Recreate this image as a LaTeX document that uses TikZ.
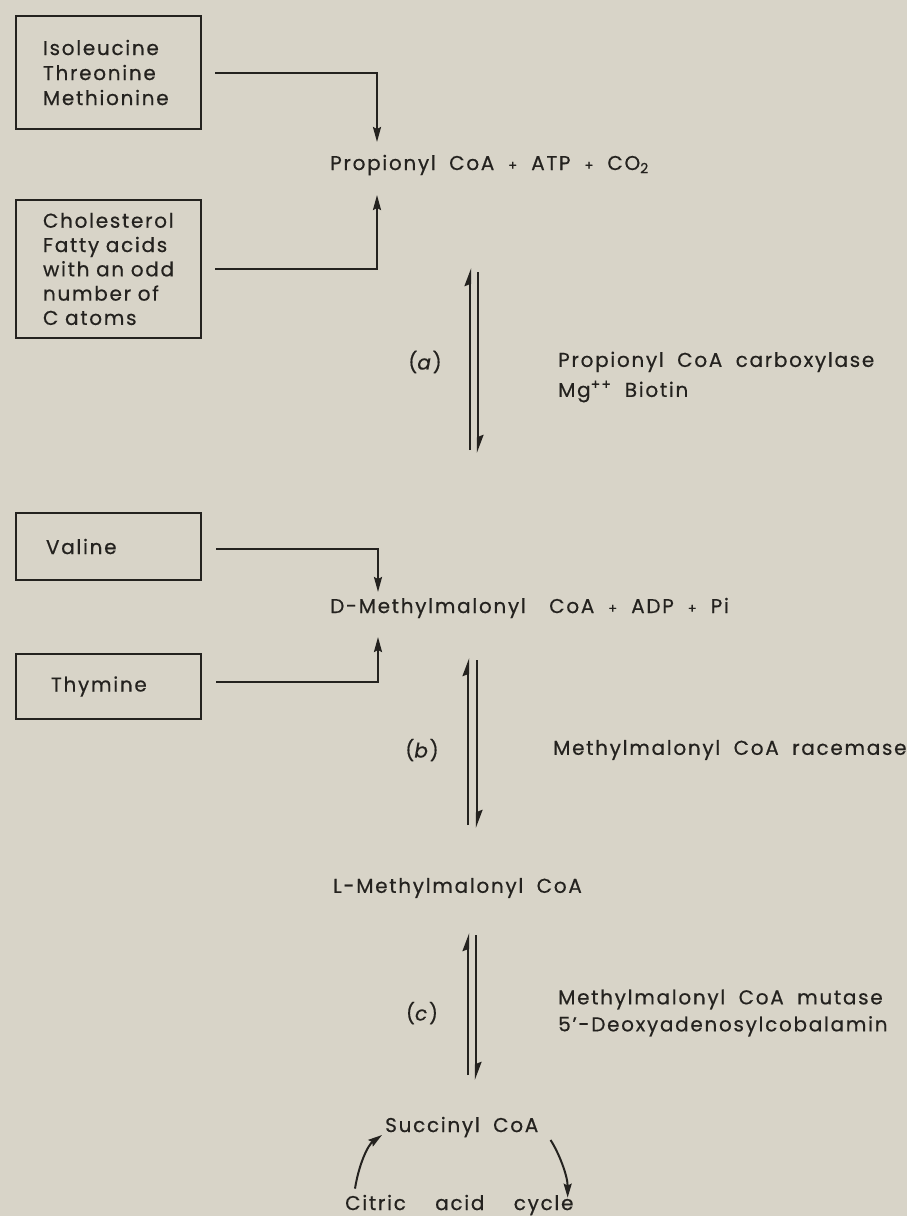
\documentclass[tikz,border=0pt]{standalone}
\usepackage{fontspec}
\setmainfont{Poppins}[LetterSpace=8.5,WordSpace=1.9,FakeBold=0.5]
\usepackage{tikz}
\usetikzlibrary{arrows.meta,positioning}
\definecolor{ink}{HTML}{24221F}
\definecolor{paper}{HTML}{D8D4C8}
\newcommand{\pls}{\hspace{0.7em}{\fontsize{13}{13}\selectfont+}\hspace{0.7em}}

\tikzset{
  lbl/.style={anchor=west, inner sep=0pt, text=ink, align=left},
  steplbl/.style={inner sep=0pt, text=ink},
  srcbox/.style={draw=ink, line width=2pt, anchor=north west, inner xsep=27pt,
    inner ysep=0pt, text width=131pt, align=left, text=ink},
  feed/.style={draw=ink, line width=2pt, -{Stealth[length=15pt,width=8pt,inset=2pt]}},
  half/.style={draw=ink, line width=2.3pt, -{Stealth[left,length=15pt,width=11pt,inset=2pt]}},
  cyc/.style={draw=ink, line width=2pt, -{Stealth[length=14pt,width=8pt,inset=2pt]}},
}

\begin{document}
\begin{tikzpicture}[x=1pt,y=-1pt,font=\fontsize{20}{25}\selectfont]
\fill[paper] (0,0) rectangle (907,1216);

% sources
\node[srcbox, minimum height=113pt] (amino) at (15,15) {Isoleucine\\Threonine\\Methionine};
\node[srcbox, minimum height=138pt, font=\fontsize{20}{24.3}\selectfont] (lipid) at (15,199)
  {Cholesterol\\Fatty~acids\\with~an~odd\\number~of\\C~atoms};
\node[srcbox, minimum height=67pt, inner xsep=30pt, text width=125pt] (valine) at (15,512) {Valine};
\node[srcbox, minimum height=65pt, inner xsep=35pt, text width=115pt] (thymine) at (15,653) {Thymine};

% main chain
\node[lbl] (prop) at (330,165) {Propionyl CoA\pls{}ATP\pls{}CO\textsubscript{2}};
\node[lbl] (dmeth) at (330,608) {D-Methylmalonyl\hspace{10pt} CoA\pls{}ADP\pls{}Pi};
\node[lbl] (lmeth) at (333,888) {L-Methylmalonyl CoA};
\node[lbl] (succ) at (385,1127) {Succinyl CoA};
\node[lbl] (citric) at (345,1205) {Citric\hspace{16pt} acid\hspace{16pt} cycle};

% enzymes
\node[steplbl] (stepa) at (425,362) {(\textit{a})};
\node[lbl] (enza) at (558,377) {Propionyl CoA carboxylase\\[5pt]Mg\textsuperscript{++} Biotin};
\node[steplbl] (stepb) at (422,750) {(\textit{b})};
\node[lbl] (enzb) at (553,750) {Methylmalonyl CoA racemase};
\node[steplbl] (stepc) at (422,1013) {(\textit{c})};
\node[lbl] (enzc) at (558,1013) {Methylmalonyl CoA mutase\\[2pt]5\textquoteright-Deoxyadenosylcobalamin};

% feeds into the chain
\coordinate (propin) at (377,142);
\coordinate (propup) at (377,195);
\coordinate (dmin) at (378,592);
\coordinate (dmup) at (378,637);
\draw[feed] ([xshift=13pt]amino.east) -| (propin);
\draw[feed] ([xshift=13pt]lipid.east) -| (propup);
\draw[feed] ([shift={(14pt,-2pt)}]valine.east) -| (dmin);
\draw[feed] ([shift={(14pt,5pt)}]thymine.east) -| (dmup);

% reversible steps
\coordinate (atop) at (474,268);
\coordinate (abot) at (474,453);
\coordinate (btop) at (472.5,658);
\coordinate (bbot) at (472.5,828);
\coordinate (ctop) at (472,933);
\coordinate (cbot) at (472,1080);
\draw[half] ([shift={(-4pt,3pt)}]abot) -- ([xshift=-4pt]atop);
\draw[half] ([shift={(4pt,-4pt)}]atop) -- ([xshift=4pt]abot);
\draw[half] ([shift={(-4.5pt,3pt)}]bbot) -- ([xshift=-4.5pt]btop);
\draw[half] ([shift={(4.5pt,-2pt)}]btop) -- ([xshift=4.5pt]bbot);
\draw[half] ([shift={(-4pt,5pt)}]cbot) -- ([xshift=-4pt]ctop);
\draw[half] ([shift={(4pt,-2pt)}]ctop) -- ([xshift=4pt]cbot);

% citric acid cycle
\draw[cyc] ([shift={(10pt,6pt)}]citric.north west) .. controls +(4,-25) and +(-14,10) .. ([shift={(-3pt,-8pt)}]succ.west);
\draw[cyc] ([shift={(12pt,-13pt)}]succ.east) .. controls +(8,12) and +(0,-22) .. ([shift={(-6pt,-3pt)}]citric.north east);
\end{tikzpicture}
\end{document}
